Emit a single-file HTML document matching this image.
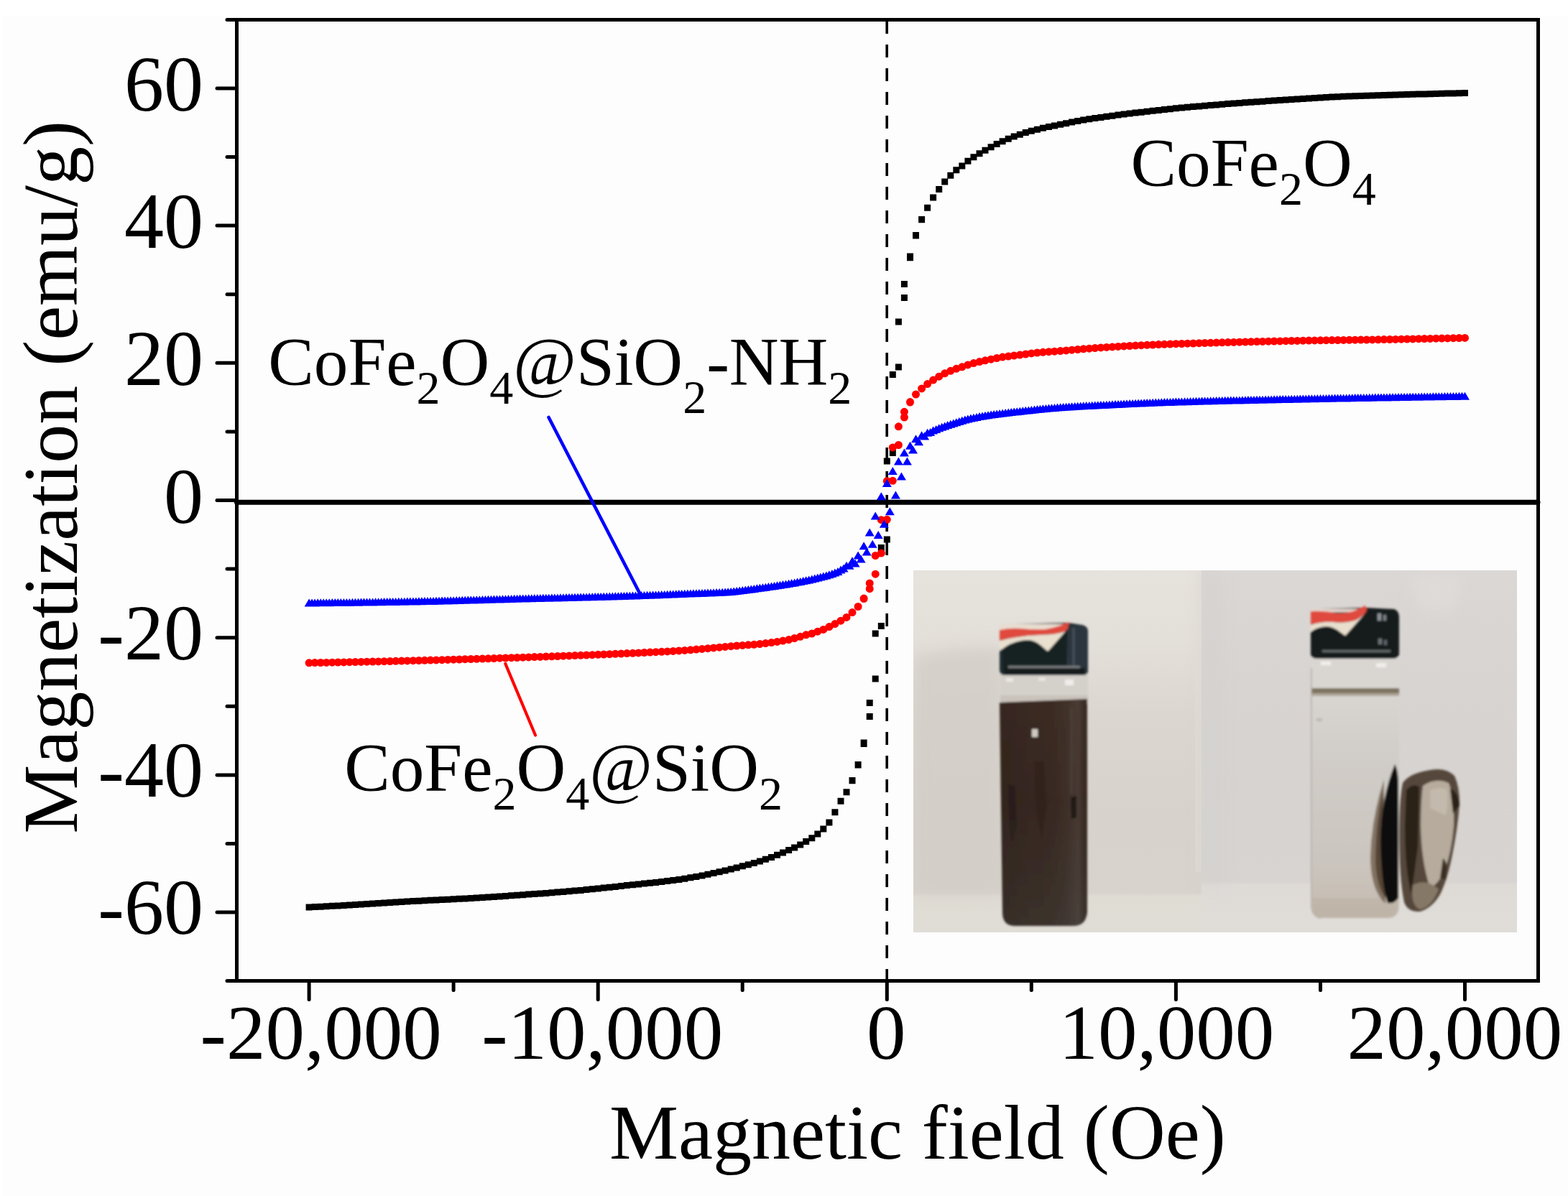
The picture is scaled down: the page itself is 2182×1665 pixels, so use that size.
<!DOCTYPE html>
<html><head><meta charset="utf-8"><title>Magnetization curves</title>
<style>
html,body{margin:0;padding:0;background:#fff;overflow:hidden;width:2182px;height:1665px;}
svg{display:block;}
text{font-family:"Liberation Serif","Times New Roman",serif;fill:#000;font-variant-ligatures:none;}
</style></head><body>
<svg width="2182" height="1665" viewBox="0 0 2182 1665">
<rect x="0" y="0" width="2182" height="1665" fill="#fff"/>
<rect x="3" y="22" width="2179" height="1643" fill="#fdfdfd"/>
<defs>
<clipPath id="pc"><rect x="1271" y="794" width="840" height="504"/></clipPath>
<filter id="bl" x="-5%" y="-5%" width="110%" height="110%"><feGaussianBlur stdDeviation="1.4"/></filter>
<filter id="bl3" x="-20%" y="-20%" width="140%" height="140%"><feGaussianBlur stdDeviation="3"/></filter>
<filter id="bl10" x="-30%" y="-30%" width="160%" height="160%"><feGaussianBlur stdDeviation="10"/></filter>
<linearGradient id="bgLv" x1="0" y1="794" x2="0" y2="1298" gradientUnits="userSpaceOnUse">
 <stop offset="0" stop-color="#e6e2dc"/><stop offset="0.2" stop-color="#e3dfd9"/><stop offset="0.4" stop-color="#dbd7d0"/><stop offset="0.7" stop-color="#d7d2cb"/><stop offset="0.89" stop-color="#d8d3cc"/><stop offset="0.9" stop-color="#dfdcd4"/><stop offset="1" stop-color="#e0ddd6"/>
</linearGradient>
<linearGradient id="bgRv" x1="0" y1="794" x2="0" y2="1298" gradientUnits="userSpaceOnUse">
 <stop offset="0" stop-color="#dbd7d4"/><stop offset="0.3" stop-color="#d8d4d2"/><stop offset="0.6" stop-color="#d6d3d1"/><stop offset="0.86" stop-color="#d7d4d1"/><stop offset="0.87" stop-color="#dedbd7"/><stop offset="1" stop-color="#e0ddd9"/>
</linearGradient>
<linearGradient id="liqL" x1="0" y1="978" x2="0" y2="1290" gradientUnits="userSpaceOnUse">
 <stop offset="0" stop-color="#3a2a22"/><stop offset="0.45" stop-color="#362720"/><stop offset="0.75" stop-color="#382c25"/><stop offset="1" stop-color="#3a312b"/>
</linearGradient>
<linearGradient id="liqLh" x1="1391" y1="0" x2="1513" y2="0" gradientUnits="userSpaceOnUse">
 <stop offset="0" stop-color="#000" stop-opacity="0.08"/><stop offset="0.4" stop-color="#000" stop-opacity="0"/><stop offset="0.75" stop-color="#fff" stop-opacity="0.03"/><stop offset="0.9" stop-color="#fff" stop-opacity="0.08"/><stop offset="1" stop-color="#000" stop-opacity="0.05"/>
</linearGradient>
<linearGradient id="liqR" x1="0" y1="966" x2="0" y2="1278" gradientUnits="userSpaceOnUse">
 <stop offset="0" stop-color="#d8d5d1"/><stop offset="0.3" stop-color="#d0ccc7"/><stop offset="0.75" stop-color="#cbc5bf"/><stop offset="0.9" stop-color="#c7bfb5"/><stop offset="1" stop-color="#c0b7ab"/>
</linearGradient>
</defs>
<g clip-path="url(#pc)">
<rect x="1271" y="794" width="401" height="504" fill="url(#bgLv)"/>
<rect x="1672" y="794" width="439" height="504" fill="url(#bgRv)"/>
<rect x="1663" y="794" width="9" height="420" fill="#e4e0da" opacity="0.45"/>
<g filter="url(#bl10)">
<path d="M1271 915Q1330 900 1395 902L1395 1244H1271Z" fill="#d2cdc7" opacity="0.8"/>
<path d="M1672 794H1700V1230H1672Z" fill="#d2d0cf" opacity="0.6"/>
<path d="M1960 800L2035 800L2025 850L1975 850Z" fill="#e0dddc" opacity="0.7"/>
</g>
<g filter="url(#bl)">
<!-- left vial glass neck -->
<rect x="1392" y="936" width="122" height="43" fill="#d4d0ca"/>
<rect x="1400" y="944" width="10" height="5" fill="#ebe9e5"/>
<rect x="1445" y="943" width="10" height="5" fill="#e6e4e0"/>
<rect x="1482" y="946" width="12" height="8" fill="#f0eeea"/>
<rect x="1392" y="968" width="122" height="10" fill="#c4beb6" opacity="0.7"/>
<!-- left liquid -->
<path d="M1391 978L1513 973V1270Q1511 1289 1494 1289H1412Q1396 1289 1395 1272Z" fill="url(#liqL)"/>
<path d="M1391 978L1513 973V1270Q1511 1289 1494 1289H1412Q1396 1289 1395 1272Z" fill="url(#liqLh)"/>
<path d="M1403 1090Q1402 1140 1408 1175L1415 1150L1413 1095Z" fill="#1e1613" opacity="0.4"/>
<path d="M1440 1060Q1438 1120 1450 1170L1456 1120L1452 1060Z" fill="#2a1d18" opacity="0.35"/>
<path d="M1490 1110L1498 1108L1498 1138L1491 1140Z" fill="#1c1512" opacity="0.85"/>
<rect x="1489" y="985" width="4" height="120" fill="#5a4a44" opacity="0.35"/>
<rect x="1436" y="1015" width="8" height="11" fill="#cfcbc3"/>
<!-- left cap -->
<path d="M1391 872Q1395 869 1410 869L1486 867L1506 870Q1514 872 1514 880V934Q1514 940 1506 940H1398Q1391 940 1391 932Z" fill="#1f2a2d"/>
<path d="M1391 869H1487L1487 878L1391 878Z" fill="#e8ddd0"/>
<path d="M1391 877Q1405 874 1420 875Q1440 877 1455 876Q1472 873 1488 866L1485 878Q1475 882 1465 883Q1445 884 1430 885Q1410 887 1391 892Z" fill="#e0493e"/>
<path d="M1391 892Q1410 887 1430 885Q1445 884 1465 883Q1475 882 1485 878L1480 886L1458 907L1450 900Q1440 891 1430 891Q1410 893 1400 900L1391 906Z" fill="#e9e0cf"/>
<path d="M1396 903Q1410 892 1430 891Q1442 892 1450 900L1458 907L1487 874L1490 935H1396Z" fill="#182224"/>
<path d="M1486 871L1506 870Q1514 872 1514 880V936H1484Z" fill="#2c353d"/>
<rect x="1492" y="874" width="4" height="58" fill="#46525c" opacity="0.8"/>
<rect x="1403" y="927" width="100" height="3" fill="#777b7e"/>
<rect x="1398" y="930" width="112" height="8" fill="#161c1e"/>
<!-- right vial glass -->
<path d="M1825 966H1947V1262Q1946 1278 1931 1278H1841Q1826 1278 1825 1262Z" fill="url(#liqR)"/>
<rect x="1825" y="915" width="122" height="45" fill="#d9d6d2"/>
<rect x="1838" y="921" width="14" height="5" fill="#f2f0ec"/>
<rect x="1915" y="923" width="14" height="6" fill="#f0eeea"/>
<rect x="1825" y="958" width="122" height="7" fill="#7e725f"/>
<rect x="1825" y="965" width="122" height="4" fill="#aea597"/>
<rect x="1832" y="1000" width="8" height="4" fill="#bdb6ae"/>
<path d="M1827 1250H1945V1262Q1944 1277 1930 1277H1842Q1828 1277 1827 1262Z" fill="#bcb1a3" opacity="0.6"/>
<!-- right cap -->
<path d="M1824 852Q1826 848 1835 848L1900 846L1940 848Q1947 850 1947 860V910Q1947 917 1938 917H1833Q1824 917 1824 910Z" fill="#171b1d"/>
<path d="M1824 848H1900V852L1824 853Z" fill="#e6d6cc"/>
<path d="M1824 851Q1845 850 1860 854Q1880 855 1900 843L1902 850Q1895 860 1885 864Q1870 868 1855 866Q1840 865 1824 870Z" fill="#e04a3d"/>
<path d="M1824 870Q1840 865 1855 866Q1870 868 1885 864Q1895 860 1902 850L1896 858L1872 885L1865 880Q1855 872 1845 872Q1832 873 1824 880Z" fill="#e8dfcd"/>
<rect x="1917" y="854" width="5" height="10" fill="#8c9297"/>
<rect x="1925" y="856" width="4" height="8" fill="#7a8085"/>
<rect x="1918" y="889" width="5" height="8" fill="#6a7075"/>
<rect x="1926" y="891" width="4" height="7" fill="#5f656a"/>
<rect x="1840" y="905" width="95" height="3" fill="#64686b"/>
<!-- deposit -->
<path d="M1926 1085Q1908 1140 1907 1195Q1908 1240 1928 1258L1926 1160Z" fill="#6a5643" opacity="0.75"/>
<path d="M1924 1100Q1914 1150 1914 1200Q1916 1235 1928 1250L1925 1160Z" fill="#4a3a2c" opacity="0.8"/>
<path d="M1941 1064Q1946 1072 1946 1095V1250Q1940 1259 1931 1257Q1922 1232 1921 1170Q1922 1110 1941 1064Z" fill="#0f0c0b"/>
<path d="M1825 930V1262Q1826 1276 1838 1278" stroke="#b4aca3" stroke-width="1.5" fill="none"/>
<!-- magnet -->
<path d="M1952 1090Q1962 1076 1990 1072Q2012 1068 2024 1080Q2031 1095 2031 1118Q2029 1150 2021 1190Q2014 1225 2004 1245Q1993 1264 1976 1269Q1959 1270 1954 1256Q1947 1222 1947 1160Q1947 1115 1952 1090Z" fill="#54463a"/>
<path d="M1980 1094Q1998 1082 2016 1090Q2024 1110 2023 1150Q2020 1185 2011 1210Q2001 1232 1990 1236Q1978 1200 1977 1150Q1977 1115 1980 1094Z" fill="#b6ab9c"/>
<path d="M1990 1100Q2005 1094 2014 1100Q2016 1120 2012 1135Q2000 1130 1990 1125Z" fill="#c7bdb0" opacity="0.8"/>
<path d="M1957 1100Q1965 1090 1975 1095L1973 1180L1964 1245Q1955 1210 1955 1150Z" fill="#2c2219"/>
<path d="M1966 1232Q1985 1222 2002 1238Q1993 1262 1976 1266Q1962 1260 1966 1232Z" fill="#857866"/>
<path d="M2018 1098Q2030 1102 2031 1122L2022 1132Z" fill="#2c2218"/>
<path d="M2008 1195Q2016 1200 2012 1225L2004 1222Z" fill="#3a2e22"/>
</g>
</g>

<g stroke="#000" stroke-width="5" stroke-linecap="round" fill="none">
<line x1="302" y1="122.9" x2="329.5" y2="122.9"/>
<line x1="302" y1="314.1" x2="329.5" y2="314.1"/>
<line x1="302" y1="505.3" x2="329.5" y2="505.3"/>
<line x1="302" y1="696.5" x2="329.5" y2="696.5"/>
<line x1="302" y1="887.7" x2="329.5" y2="887.7"/>
<line x1="302" y1="1078.9" x2="329.5" y2="1078.9"/>
<line x1="302" y1="1270.1" x2="329.5" y2="1270.1"/>
<line x1="316" y1="218.5" x2="329.5" y2="218.5"/>
<line x1="316" y1="409.7" x2="329.5" y2="409.7"/>
<line x1="316" y1="600.9" x2="329.5" y2="600.9"/>
<line x1="316" y1="792.1" x2="329.5" y2="792.1"/>
<line x1="316" y1="983.3" x2="329.5" y2="983.3"/>
<line x1="316" y1="1174.5" x2="329.5" y2="1174.5"/>
<line x1="430.1" y1="1365.5" x2="430.1" y2="1391.5"/>
<line x1="832.2" y1="1365.5" x2="832.2" y2="1391.5"/>
<line x1="1234.3" y1="1365.5" x2="1234.3" y2="1391.5"/>
<line x1="1636.4" y1="1365.5" x2="1636.4" y2="1391.5"/>
<line x1="2038.5" y1="1365.5" x2="2038.5" y2="1391.5"/>
<line x1="631.1" y1="1365.5" x2="631.1" y2="1378.5"/>
<line x1="1033.2" y1="1365.5" x2="1033.2" y2="1378.5"/>
<line x1="1435.3" y1="1365.5" x2="1435.3" y2="1378.5"/>
<line x1="1837.5" y1="1365.5" x2="1837.5" y2="1378.5"/>
</g>
<line x1="1234.2" y1="29" x2="1234.2" y2="1363" stroke="#000" stroke-width="3.6" stroke-dasharray="18 15" stroke-linecap="butt"/>
<line x1="329.5" y1="699.3" x2="2140" y2="699.3" stroke="#000" stroke-width="7" stroke-linecap="round"/>
<path d="M316 27.5H2140.5V1365.5H316M329.5 27.5V1365.5" stroke="#000" stroke-width="5" fill="none" stroke-linecap="round" stroke-linejoin="miter"/>
<line x1="763.5" y1="581" x2="890.5" y2="826.5" stroke="#00f" stroke-width="4.6" stroke-linecap="round"/>
<line x1="703.3" y1="924" x2="745" y2="1023.5" stroke="#f00" stroke-width="4.2" stroke-linecap="round"/>
<path fill="#000" d="M425.6 1258.4h9v9h-9zM433.6 1258.0h9v9h-9zM441.7 1257.7h9v9h-9zM449.7 1257.2h9v9h-9zM457.8 1256.8h9v9h-9zM465.8 1256.4h9v9h-9zM473.9 1256.0h9v9h-9zM481.9 1255.5h9v9h-9zM489.9 1255.1h9v9h-9zM498.0 1254.6h9v9h-9zM506.0 1254.1h9v9h-9zM514.1 1253.6h9v9h-9zM522.1 1253.1h9v9h-9zM530.1 1252.6h9v9h-9zM538.2 1252.0h9v9h-9zM546.2 1251.5h9v9h-9zM554.3 1251.0h9v9h-9zM562.3 1250.5h9v9h-9zM570.4 1250.1h9v9h-9zM578.4 1249.7h9v9h-9zM586.4 1249.2h9v9h-9zM594.5 1248.8h9v9h-9zM602.5 1248.4h9v9h-9zM610.6 1248.1h9v9h-9zM618.6 1247.7h9v9h-9zM626.6 1247.2h9v9h-9zM634.7 1246.8h9v9h-9zM642.7 1246.4h9v9h-9zM650.8 1245.9h9v9h-9zM658.8 1245.4h9v9h-9zM666.9 1244.9h9v9h-9zM674.9 1244.4h9v9h-9zM682.9 1243.9h9v9h-9zM691.0 1243.4h9v9h-9zM699.0 1242.9h9v9h-9zM707.1 1242.3h9v9h-9zM715.1 1241.8h9v9h-9zM723.2 1241.2h9v9h-9zM731.2 1240.6h9v9h-9zM739.2 1240.1h9v9h-9zM747.3 1239.5h9v9h-9zM755.3 1238.9h9v9h-9zM763.4 1238.3h9v9h-9zM771.4 1237.6h9v9h-9zM779.4 1237.0h9v9h-9zM787.5 1236.3h9v9h-9zM795.5 1235.6h9v9h-9zM803.6 1234.9h9v9h-9zM811.6 1234.1h9v9h-9zM819.7 1233.3h9v9h-9zM827.7 1232.5h9v9h-9zM835.7 1231.6h9v9h-9zM843.8 1230.8h9v9h-9zM851.8 1229.9h9v9h-9zM859.9 1229.0h9v9h-9zM867.9 1228.1h9v9h-9zM876.0 1227.3h9v9h-9zM884.0 1226.4h9v9h-9zM892.0 1225.6h9v9h-9zM900.1 1224.8h9v9h-9zM908.1 1223.9h9v9h-9zM916.2 1223.0h9v9h-9zM924.2 1222.0h9v9h-9zM932.2 1221.0h9v9h-9zM940.3 1219.9h9v9h-9zM948.3 1218.7h9v9h-9zM956.4 1217.3h9v9h-9zM964.4 1215.9h9v9h-9zM972.5 1214.4h9v9h-9zM980.5 1212.8h9v9h-9zM988.5 1211.1h9v9h-9zM996.6 1209.3h9v9h-9zM1004.6 1207.4h9v9h-9zM1012.7 1205.4h9v9h-9zM1020.7 1203.4h9v9h-9zM1028.8 1201.3h9v9h-9zM1036.8 1199.2h9v9h-9zM1044.8 1196.9h9v9h-9zM1052.9 1194.4h9v9h-9zM1060.9 1191.8h9v9h-9zM1069.0 1188.9h9v9h-9zM1077.0 1185.8h9v9h-9zM1085.0 1182.5h9v9h-9zM1093.1 1179.0h9v9h-9zM1101.1 1175.4h9v9h-9zM1109.2 1171.5h9v9h-9zM1117.2 1167.1h9v9h-9zM1125.3 1162.2h9v9h-9zM1133.3 1156.5h9v9h-9zM1141.3 1149.4h9v9h-9zM1149.4 1140.4h9v9h-9zM1157.4 1126.3h9v9h-9zM1165.5 1110.7h9v9h-9zM1173.5 1098.3h9v9h-9zM1181.5 1082.0h9v9h-9zM1189.6 1060.1h9v9h-9zM1197.6 1029.5h9v9h-9zM1205.7 974.0h9v9h-9zM1213.7 877.5h9v9h-9zM1221.8 758.0h9v9h-9zM1229.8 637.5h9v9h-9zM1237.8 517.1h9v9h-9zM1245.9 443.4h9v9h-9zM1253.9 390.9h9v9h-9zM1262.0 352.6h9v9h-9zM1270.0 323.0h9v9h-9zM1278.1 301.0h9v9h-9zM1286.1 284.7h9v9h-9zM1294.1 270.4h9v9h-9zM1302.2 258.9h9v9h-9zM1310.2 248.4h9v9h-9zM1318.3 239.8h9v9h-9zM1326.3 232.2h9v9h-9zM1334.3 226.4h9v9h-9zM1342.4 219.7h9v9h-9zM1350.4 214.2h9v9h-9zM1358.5 209.3h9v9h-9zM1366.5 204.7h9v9h-9zM1374.6 200.3h9v9h-9zM1382.6 196.1h9v9h-9zM1390.6 192.2h9v9h-9zM1398.7 188.7h9v9h-9zM1406.7 185.6h9v9h-9zM1414.8 182.7h9v9h-9zM1422.8 180.1h9v9h-9zM1430.8 177.8h9v9h-9zM1438.9 175.7h9v9h-9zM1446.9 173.8h9v9h-9zM1455.0 172.1h9v9h-9zM1463.0 170.5h9v9h-9zM1471.1 168.8h9v9h-9zM1479.1 167.2h9v9h-9zM1487.1 165.5h9v9h-9zM1495.2 164.0h9v9h-9zM1503.2 162.6h9v9h-9zM1511.3 161.3h9v9h-9zM1519.3 160.1h9v9h-9zM1527.4 158.9h9v9h-9zM1535.4 157.8h9v9h-9zM1543.4 156.7h9v9h-9zM1551.5 155.6h9v9h-9zM1559.5 154.6h9v9h-9zM1567.6 153.6h9v9h-9zM1575.6 152.6h9v9h-9zM1583.6 151.7h9v9h-9zM1591.7 150.7h9v9h-9zM1599.7 149.8h9v9h-9zM1607.8 148.9h9v9h-9zM1615.8 148.0h9v9h-9zM1623.9 147.2h9v9h-9zM1631.9 146.3h9v9h-9zM1639.9 145.6h9v9h-9zM1648.0 144.8h9v9h-9zM1656.0 144.1h9v9h-9zM1664.1 143.4h9v9h-9zM1672.1 142.7h9v9h-9zM1680.2 142.0h9v9h-9zM1688.2 141.4h9v9h-9zM1696.2 140.7h9v9h-9zM1704.3 140.1h9v9h-9zM1712.3 139.5h9v9h-9zM1720.4 138.9h9v9h-9zM1728.4 138.3h9v9h-9zM1736.4 137.8h9v9h-9zM1744.5 137.2h9v9h-9zM1752.5 136.7h9v9h-9zM1760.6 136.1h9v9h-9zM1768.6 135.6h9v9h-9zM1776.7 135.1h9v9h-9zM1784.7 134.5h9v9h-9zM1792.7 134.0h9v9h-9zM1800.8 133.5h9v9h-9zM1808.8 132.9h9v9h-9zM1816.9 132.4h9v9h-9zM1824.9 131.9h9v9h-9zM1833.0 131.4h9v9h-9zM1841.0 130.9h9v9h-9zM1849.0 130.5h9v9h-9zM1857.1 130.2h9v9h-9zM1865.1 129.8h9v9h-9zM1873.2 129.5h9v9h-9zM1881.2 129.3h9v9h-9zM1889.2 129.0h9v9h-9zM1897.3 128.7h9v9h-9zM1905.3 128.5h9v9h-9zM1913.4 128.2h9v9h-9zM1921.4 128.0h9v9h-9zM1929.5 127.8h9v9h-9zM1937.5 127.5h9v9h-9zM1945.5 127.3h9v9h-9zM1953.6 127.1h9v9h-9zM1961.6 126.8h9v9h-9zM1969.7 126.6h9v9h-9zM1977.7 126.4h9v9h-9zM1985.7 126.2h9v9h-9zM1993.8 126.0h9v9h-9zM2001.8 125.8h9v9h-9zM2009.9 125.6h9v9h-9zM2017.9 125.4h9v9h-9zM2026.0 125.3h9v9h-9zM2034.0 125.1h9v9h-9zM1181.5 1082.2h9v9h-9zM1189.6 1060.5h9v9h-9zM1197.6 1031.1h9v9h-9zM1205.7 993.1h9v9h-9zM1213.7 940.6h9v9h-9zM1221.8 866.9h9v9h-9zM1229.8 746.5h9v9h-9zM1237.8 626.0h9v9h-9zM1245.9 506.5h9v9h-9zM1253.9 410.0h9v9h-9zM1262.0 354.2h9v9h-9zM1270.0 323.5h9v9h-9zM1278.1 301.2h9v9h-9z"/>
<path fill="#f00" d="M424.6 922.8a5.5 5.5 0 1 0 11 0a5.5 5.5 0 1 0 -11 0zM432.6 922.6a5.5 5.5 0 1 0 11 0a5.5 5.5 0 1 0 -11 0zM440.7 922.5a5.5 5.5 0 1 0 11 0a5.5 5.5 0 1 0 -11 0zM448.7 922.4a5.5 5.5 0 1 0 11 0a5.5 5.5 0 1 0 -11 0zM456.8 922.2a5.5 5.5 0 1 0 11 0a5.5 5.5 0 1 0 -11 0zM464.8 922.0a5.5 5.5 0 1 0 11 0a5.5 5.5 0 1 0 -11 0zM472.9 921.9a5.5 5.5 0 1 0 11 0a5.5 5.5 0 1 0 -11 0zM480.9 921.7a5.5 5.5 0 1 0 11 0a5.5 5.5 0 1 0 -11 0zM488.9 921.6a5.5 5.5 0 1 0 11 0a5.5 5.5 0 1 0 -11 0zM497.0 921.4a5.5 5.5 0 1 0 11 0a5.5 5.5 0 1 0 -11 0zM505.0 921.2a5.5 5.5 0 1 0 11 0a5.5 5.5 0 1 0 -11 0zM513.1 921.0a5.5 5.5 0 1 0 11 0a5.5 5.5 0 1 0 -11 0zM521.1 920.9a5.5 5.5 0 1 0 11 0a5.5 5.5 0 1 0 -11 0zM529.1 920.7a5.5 5.5 0 1 0 11 0a5.5 5.5 0 1 0 -11 0zM537.2 920.5a5.5 5.5 0 1 0 11 0a5.5 5.5 0 1 0 -11 0zM545.2 920.3a5.5 5.5 0 1 0 11 0a5.5 5.5 0 1 0 -11 0zM553.3 920.1a5.5 5.5 0 1 0 11 0a5.5 5.5 0 1 0 -11 0zM561.3 919.9a5.5 5.5 0 1 0 11 0a5.5 5.5 0 1 0 -11 0zM569.4 919.7a5.5 5.5 0 1 0 11 0a5.5 5.5 0 1 0 -11 0zM577.4 919.5a5.5 5.5 0 1 0 11 0a5.5 5.5 0 1 0 -11 0zM585.4 919.3a5.5 5.5 0 1 0 11 0a5.5 5.5 0 1 0 -11 0zM593.5 919.1a5.5 5.5 0 1 0 11 0a5.5 5.5 0 1 0 -11 0zM601.5 918.9a5.5 5.5 0 1 0 11 0a5.5 5.5 0 1 0 -11 0zM609.6 918.7a5.5 5.5 0 1 0 11 0a5.5 5.5 0 1 0 -11 0zM617.6 918.4a5.5 5.5 0 1 0 11 0a5.5 5.5 0 1 0 -11 0zM625.6 918.2a5.5 5.5 0 1 0 11 0a5.5 5.5 0 1 0 -11 0zM633.7 918.0a5.5 5.5 0 1 0 11 0a5.5 5.5 0 1 0 -11 0zM641.7 917.7a5.5 5.5 0 1 0 11 0a5.5 5.5 0 1 0 -11 0zM649.8 917.5a5.5 5.5 0 1 0 11 0a5.5 5.5 0 1 0 -11 0zM657.8 917.3a5.5 5.5 0 1 0 11 0a5.5 5.5 0 1 0 -11 0zM665.9 917.0a5.5 5.5 0 1 0 11 0a5.5 5.5 0 1 0 -11 0zM673.9 916.8a5.5 5.5 0 1 0 11 0a5.5 5.5 0 1 0 -11 0zM681.9 916.5a5.5 5.5 0 1 0 11 0a5.5 5.5 0 1 0 -11 0zM690.0 916.2a5.5 5.5 0 1 0 11 0a5.5 5.5 0 1 0 -11 0zM698.0 916.0a5.5 5.5 0 1 0 11 0a5.5 5.5 0 1 0 -11 0zM706.1 915.7a5.5 5.5 0 1 0 11 0a5.5 5.5 0 1 0 -11 0zM714.1 915.5a5.5 5.5 0 1 0 11 0a5.5 5.5 0 1 0 -11 0zM722.2 915.2a5.5 5.5 0 1 0 11 0a5.5 5.5 0 1 0 -11 0zM730.2 914.9a5.5 5.5 0 1 0 11 0a5.5 5.5 0 1 0 -11 0zM738.2 914.6a5.5 5.5 0 1 0 11 0a5.5 5.5 0 1 0 -11 0zM746.3 914.4a5.5 5.5 0 1 0 11 0a5.5 5.5 0 1 0 -11 0zM754.3 914.1a5.5 5.5 0 1 0 11 0a5.5 5.5 0 1 0 -11 0zM762.4 913.8a5.5 5.5 0 1 0 11 0a5.5 5.5 0 1 0 -11 0zM770.4 913.5a5.5 5.5 0 1 0 11 0a5.5 5.5 0 1 0 -11 0zM778.4 913.2a5.5 5.5 0 1 0 11 0a5.5 5.5 0 1 0 -11 0zM786.5 912.9a5.5 5.5 0 1 0 11 0a5.5 5.5 0 1 0 -11 0zM794.5 912.6a5.5 5.5 0 1 0 11 0a5.5 5.5 0 1 0 -11 0zM802.6 912.3a5.5 5.5 0 1 0 11 0a5.5 5.5 0 1 0 -11 0zM810.6 912.0a5.5 5.5 0 1 0 11 0a5.5 5.5 0 1 0 -11 0zM818.7 911.7a5.5 5.5 0 1 0 11 0a5.5 5.5 0 1 0 -11 0zM826.7 911.3a5.5 5.5 0 1 0 11 0a5.5 5.5 0 1 0 -11 0zM834.7 911.0a5.5 5.5 0 1 0 11 0a5.5 5.5 0 1 0 -11 0zM842.8 910.7a5.5 5.5 0 1 0 11 0a5.5 5.5 0 1 0 -11 0zM850.8 910.3a5.5 5.5 0 1 0 11 0a5.5 5.5 0 1 0 -11 0zM858.9 910.0a5.5 5.5 0 1 0 11 0a5.5 5.5 0 1 0 -11 0zM866.9 909.6a5.5 5.5 0 1 0 11 0a5.5 5.5 0 1 0 -11 0zM875.0 909.3a5.5 5.5 0 1 0 11 0a5.5 5.5 0 1 0 -11 0zM883.0 908.9a5.5 5.5 0 1 0 11 0a5.5 5.5 0 1 0 -11 0zM891.0 908.5a5.5 5.5 0 1 0 11 0a5.5 5.5 0 1 0 -11 0zM899.1 908.1a5.5 5.5 0 1 0 11 0a5.5 5.5 0 1 0 -11 0zM907.1 907.7a5.5 5.5 0 1 0 11 0a5.5 5.5 0 1 0 -11 0zM915.2 907.3a5.5 5.5 0 1 0 11 0a5.5 5.5 0 1 0 -11 0zM923.2 906.9a5.5 5.5 0 1 0 11 0a5.5 5.5 0 1 0 -11 0zM931.2 906.4a5.5 5.5 0 1 0 11 0a5.5 5.5 0 1 0 -11 0zM939.3 905.9a5.5 5.5 0 1 0 11 0a5.5 5.5 0 1 0 -11 0zM947.3 905.4a5.5 5.5 0 1 0 11 0a5.5 5.5 0 1 0 -11 0zM955.4 904.8a5.5 5.5 0 1 0 11 0a5.5 5.5 0 1 0 -11 0zM963.4 904.1a5.5 5.5 0 1 0 11 0a5.5 5.5 0 1 0 -11 0zM971.5 903.4a5.5 5.5 0 1 0 11 0a5.5 5.5 0 1 0 -11 0zM979.5 902.7a5.5 5.5 0 1 0 11 0a5.5 5.5 0 1 0 -11 0zM987.5 901.9a5.5 5.5 0 1 0 11 0a5.5 5.5 0 1 0 -11 0zM995.6 901.2a5.5 5.5 0 1 0 11 0a5.5 5.5 0 1 0 -11 0zM1003.6 900.4a5.5 5.5 0 1 0 11 0a5.5 5.5 0 1 0 -11 0zM1011.7 899.7a5.5 5.5 0 1 0 11 0a5.5 5.5 0 1 0 -11 0zM1019.7 899.0a5.5 5.5 0 1 0 11 0a5.5 5.5 0 1 0 -11 0zM1027.8 898.4a5.5 5.5 0 1 0 11 0a5.5 5.5 0 1 0 -11 0zM1035.8 897.8a5.5 5.5 0 1 0 11 0a5.5 5.5 0 1 0 -11 0zM1043.8 897.3a5.5 5.5 0 1 0 11 0a5.5 5.5 0 1 0 -11 0zM1051.9 896.5a5.5 5.5 0 1 0 11 0a5.5 5.5 0 1 0 -11 0zM1059.9 895.6a5.5 5.5 0 1 0 11 0a5.5 5.5 0 1 0 -11 0zM1068.0 894.6a5.5 5.5 0 1 0 11 0a5.5 5.5 0 1 0 -11 0zM1076.0 893.4a5.5 5.5 0 1 0 11 0a5.5 5.5 0 1 0 -11 0zM1084.0 892.1a5.5 5.5 0 1 0 11 0a5.5 5.5 0 1 0 -11 0zM1092.1 890.6a5.5 5.5 0 1 0 11 0a5.5 5.5 0 1 0 -11 0zM1100.1 888.5a5.5 5.5 0 1 0 11 0a5.5 5.5 0 1 0 -11 0zM1108.2 886.3a5.5 5.5 0 1 0 11 0a5.5 5.5 0 1 0 -11 0zM1116.2 883.8a5.5 5.5 0 1 0 11 0a5.5 5.5 0 1 0 -11 0zM1124.3 882.0a5.5 5.5 0 1 0 11 0a5.5 5.5 0 1 0 -11 0zM1132.3 879.2a5.5 5.5 0 1 0 11 0a5.5 5.5 0 1 0 -11 0zM1140.3 876.4a5.5 5.5 0 1 0 11 0a5.5 5.5 0 1 0 -11 0zM1148.4 872.6a5.5 5.5 0 1 0 11 0a5.5 5.5 0 1 0 -11 0zM1156.4 868.6a5.5 5.5 0 1 0 11 0a5.5 5.5 0 1 0 -11 0zM1164.5 864.2a5.5 5.5 0 1 0 11 0a5.5 5.5 0 1 0 -11 0zM1172.5 859.4a5.5 5.5 0 1 0 11 0a5.5 5.5 0 1 0 -11 0zM1180.5 852.6a5.5 5.5 0 1 0 11 0a5.5 5.5 0 1 0 -11 0zM1188.6 844.5a5.5 5.5 0 1 0 11 0a5.5 5.5 0 1 0 -11 0zM1196.6 833.5a5.5 5.5 0 1 0 11 0a5.5 5.5 0 1 0 -11 0zM1204.7 812.0a5.5 5.5 0 1 0 11 0a5.5 5.5 0 1 0 -11 0zM1212.7 773.5a5.5 5.5 0 1 0 11 0a5.5 5.5 0 1 0 -11 0zM1220.8 723.7a5.5 5.5 0 1 0 11 0a5.5 5.5 0 1 0 -11 0zM1228.8 669.7a5.5 5.5 0 1 0 11 0a5.5 5.5 0 1 0 -11 0zM1236.8 622.9a5.5 5.5 0 1 0 11 0a5.5 5.5 0 1 0 -11 0zM1244.9 593.8a5.5 5.5 0 1 0 11 0a5.5 5.5 0 1 0 -11 0zM1252.9 573.3a5.5 5.5 0 1 0 11 0a5.5 5.5 0 1 0 -11 0zM1261.0 560.1a5.5 5.5 0 1 0 11 0a5.5 5.5 0 1 0 -11 0zM1269.0 549.0a5.5 5.5 0 1 0 11 0a5.5 5.5 0 1 0 -11 0zM1277.1 540.9a5.5 5.5 0 1 0 11 0a5.5 5.5 0 1 0 -11 0zM1285.1 534.6a5.5 5.5 0 1 0 11 0a5.5 5.5 0 1 0 -11 0zM1293.1 529.1a5.5 5.5 0 1 0 11 0a5.5 5.5 0 1 0 -11 0zM1301.2 524.2a5.5 5.5 0 1 0 11 0a5.5 5.5 0 1 0 -11 0zM1309.2 519.8a5.5 5.5 0 1 0 11 0a5.5 5.5 0 1 0 -11 0zM1317.3 516.3a5.5 5.5 0 1 0 11 0a5.5 5.5 0 1 0 -11 0zM1325.3 513.3a5.5 5.5 0 1 0 11 0a5.5 5.5 0 1 0 -11 0zM1333.3 510.8a5.5 5.5 0 1 0 11 0a5.5 5.5 0 1 0 -11 0zM1341.4 507.9a5.5 5.5 0 1 0 11 0a5.5 5.5 0 1 0 -11 0zM1349.4 505.6a5.5 5.5 0 1 0 11 0a5.5 5.5 0 1 0 -11 0zM1357.5 503.6a5.5 5.5 0 1 0 11 0a5.5 5.5 0 1 0 -11 0zM1365.5 501.8a5.5 5.5 0 1 0 11 0a5.5 5.5 0 1 0 -11 0zM1373.6 500.2a5.5 5.5 0 1 0 11 0a5.5 5.5 0 1 0 -11 0zM1381.6 498.5a5.5 5.5 0 1 0 11 0a5.5 5.5 0 1 0 -11 0zM1389.6 497.1a5.5 5.5 0 1 0 11 0a5.5 5.5 0 1 0 -11 0zM1397.7 496.0a5.5 5.5 0 1 0 11 0a5.5 5.5 0 1 0 -11 0zM1405.7 495.0a5.5 5.5 0 1 0 11 0a5.5 5.5 0 1 0 -11 0zM1413.8 494.1a5.5 5.5 0 1 0 11 0a5.5 5.5 0 1 0 -11 0zM1421.8 493.0a5.5 5.5 0 1 0 11 0a5.5 5.5 0 1 0 -11 0zM1429.8 491.9a5.5 5.5 0 1 0 11 0a5.5 5.5 0 1 0 -11 0zM1437.9 491.0a5.5 5.5 0 1 0 11 0a5.5 5.5 0 1 0 -11 0zM1445.9 490.3a5.5 5.5 0 1 0 11 0a5.5 5.5 0 1 0 -11 0zM1454.0 489.7a5.5 5.5 0 1 0 11 0a5.5 5.5 0 1 0 -11 0zM1462.0 489.2a5.5 5.5 0 1 0 11 0a5.5 5.5 0 1 0 -11 0zM1470.1 488.6a5.5 5.5 0 1 0 11 0a5.5 5.5 0 1 0 -11 0zM1478.1 487.9a5.5 5.5 0 1 0 11 0a5.5 5.5 0 1 0 -11 0zM1486.1 487.2a5.5 5.5 0 1 0 11 0a5.5 5.5 0 1 0 -11 0zM1494.2 486.5a5.5 5.5 0 1 0 11 0a5.5 5.5 0 1 0 -11 0zM1502.2 485.8a5.5 5.5 0 1 0 11 0a5.5 5.5 0 1 0 -11 0zM1510.3 485.2a5.5 5.5 0 1 0 11 0a5.5 5.5 0 1 0 -11 0zM1518.3 484.5a5.5 5.5 0 1 0 11 0a5.5 5.5 0 1 0 -11 0zM1526.4 483.9a5.5 5.5 0 1 0 11 0a5.5 5.5 0 1 0 -11 0zM1534.4 483.4a5.5 5.5 0 1 0 11 0a5.5 5.5 0 1 0 -11 0zM1542.4 482.9a5.5 5.5 0 1 0 11 0a5.5 5.5 0 1 0 -11 0zM1550.5 482.4a5.5 5.5 0 1 0 11 0a5.5 5.5 0 1 0 -11 0zM1558.5 481.9a5.5 5.5 0 1 0 11 0a5.5 5.5 0 1 0 -11 0zM1566.6 481.5a5.5 5.5 0 1 0 11 0a5.5 5.5 0 1 0 -11 0zM1574.6 481.1a5.5 5.5 0 1 0 11 0a5.5 5.5 0 1 0 -11 0zM1582.6 480.7a5.5 5.5 0 1 0 11 0a5.5 5.5 0 1 0 -11 0zM1590.7 480.3a5.5 5.5 0 1 0 11 0a5.5 5.5 0 1 0 -11 0zM1598.7 480.0a5.5 5.5 0 1 0 11 0a5.5 5.5 0 1 0 -11 0zM1606.8 479.6a5.5 5.5 0 1 0 11 0a5.5 5.5 0 1 0 -11 0zM1614.8 479.3a5.5 5.5 0 1 0 11 0a5.5 5.5 0 1 0 -11 0zM1622.9 479.0a5.5 5.5 0 1 0 11 0a5.5 5.5 0 1 0 -11 0zM1630.9 478.7a5.5 5.5 0 1 0 11 0a5.5 5.5 0 1 0 -11 0zM1638.9 478.5a5.5 5.5 0 1 0 11 0a5.5 5.5 0 1 0 -11 0zM1647.0 478.2a5.5 5.5 0 1 0 11 0a5.5 5.5 0 1 0 -11 0zM1655.0 478.0a5.5 5.5 0 1 0 11 0a5.5 5.5 0 1 0 -11 0zM1663.1 477.7a5.5 5.5 0 1 0 11 0a5.5 5.5 0 1 0 -11 0zM1671.1 477.5a5.5 5.5 0 1 0 11 0a5.5 5.5 0 1 0 -11 0zM1679.2 477.3a5.5 5.5 0 1 0 11 0a5.5 5.5 0 1 0 -11 0zM1687.2 477.1a5.5 5.5 0 1 0 11 0a5.5 5.5 0 1 0 -11 0zM1695.2 476.8a5.5 5.5 0 1 0 11 0a5.5 5.5 0 1 0 -11 0zM1703.3 476.6a5.5 5.5 0 1 0 11 0a5.5 5.5 0 1 0 -11 0zM1711.3 476.4a5.5 5.5 0 1 0 11 0a5.5 5.5 0 1 0 -11 0zM1719.4 476.2a5.5 5.5 0 1 0 11 0a5.5 5.5 0 1 0 -11 0zM1727.4 476.0a5.5 5.5 0 1 0 11 0a5.5 5.5 0 1 0 -11 0zM1735.4 475.8a5.5 5.5 0 1 0 11 0a5.5 5.5 0 1 0 -11 0zM1743.5 475.6a5.5 5.5 0 1 0 11 0a5.5 5.5 0 1 0 -11 0zM1751.5 475.4a5.5 5.5 0 1 0 11 0a5.5 5.5 0 1 0 -11 0zM1759.6 475.2a5.5 5.5 0 1 0 11 0a5.5 5.5 0 1 0 -11 0zM1767.6 475.0a5.5 5.5 0 1 0 11 0a5.5 5.5 0 1 0 -11 0zM1775.7 474.9a5.5 5.5 0 1 0 11 0a5.5 5.5 0 1 0 -11 0zM1783.7 474.7a5.5 5.5 0 1 0 11 0a5.5 5.5 0 1 0 -11 0zM1791.7 474.5a5.5 5.5 0 1 0 11 0a5.5 5.5 0 1 0 -11 0zM1799.8 474.4a5.5 5.5 0 1 0 11 0a5.5 5.5 0 1 0 -11 0zM1807.8 474.2a5.5 5.5 0 1 0 11 0a5.5 5.5 0 1 0 -11 0zM1815.9 474.1a5.5 5.5 0 1 0 11 0a5.5 5.5 0 1 0 -11 0zM1823.9 473.9a5.5 5.5 0 1 0 11 0a5.5 5.5 0 1 0 -11 0zM1832.0 473.8a5.5 5.5 0 1 0 11 0a5.5 5.5 0 1 0 -11 0zM1840.0 473.7a5.5 5.5 0 1 0 11 0a5.5 5.5 0 1 0 -11 0zM1848.0 473.6a5.5 5.5 0 1 0 11 0a5.5 5.5 0 1 0 -11 0zM1856.1 473.5a5.5 5.5 0 1 0 11 0a5.5 5.5 0 1 0 -11 0zM1864.1 473.4a5.5 5.5 0 1 0 11 0a5.5 5.5 0 1 0 -11 0zM1872.2 473.3a5.5 5.5 0 1 0 11 0a5.5 5.5 0 1 0 -11 0zM1880.2 473.2a5.5 5.5 0 1 0 11 0a5.5 5.5 0 1 0 -11 0zM1888.2 473.1a5.5 5.5 0 1 0 11 0a5.5 5.5 0 1 0 -11 0zM1896.3 473.0a5.5 5.5 0 1 0 11 0a5.5 5.5 0 1 0 -11 0zM1904.3 472.9a5.5 5.5 0 1 0 11 0a5.5 5.5 0 1 0 -11 0zM1912.4 472.8a5.5 5.5 0 1 0 11 0a5.5 5.5 0 1 0 -11 0zM1920.4 472.6a5.5 5.5 0 1 0 11 0a5.5 5.5 0 1 0 -11 0zM1928.5 472.5a5.5 5.5 0 1 0 11 0a5.5 5.5 0 1 0 -11 0zM1936.5 472.4a5.5 5.5 0 1 0 11 0a5.5 5.5 0 1 0 -11 0zM1944.5 472.2a5.5 5.5 0 1 0 11 0a5.5 5.5 0 1 0 -11 0zM1952.6 472.0a5.5 5.5 0 1 0 11 0a5.5 5.5 0 1 0 -11 0zM1960.6 471.9a5.5 5.5 0 1 0 11 0a5.5 5.5 0 1 0 -11 0zM1968.7 471.7a5.5 5.5 0 1 0 11 0a5.5 5.5 0 1 0 -11 0zM1976.7 471.6a5.5 5.5 0 1 0 11 0a5.5 5.5 0 1 0 -11 0zM1984.7 471.4a5.5 5.5 0 1 0 11 0a5.5 5.5 0 1 0 -11 0zM1992.8 471.2a5.5 5.5 0 1 0 11 0a5.5 5.5 0 1 0 -11 0zM2000.8 471.1a5.5 5.5 0 1 0 11 0a5.5 5.5 0 1 0 -11 0zM2008.9 470.9a5.5 5.5 0 1 0 11 0a5.5 5.5 0 1 0 -11 0zM2016.9 470.7a5.5 5.5 0 1 0 11 0a5.5 5.5 0 1 0 -11 0zM2025.0 470.6a5.5 5.5 0 1 0 11 0a5.5 5.5 0 1 0 -11 0zM2033.0 470.4a5.5 5.5 0 1 0 11 0a5.5 5.5 0 1 0 -11 0zM1188.6 844.4a5.5 5.5 0 1 0 11 0a5.5 5.5 0 1 0 -11 0zM1196.6 833.1a5.5 5.5 0 1 0 11 0a5.5 5.5 0 1 0 -11 0zM1204.7 819.7a5.5 5.5 0 1 0 11 0a5.5 5.5 0 1 0 -11 0zM1212.7 799.2a5.5 5.5 0 1 0 11 0a5.5 5.5 0 1 0 -11 0zM1220.8 770.1a5.5 5.5 0 1 0 11 0a5.5 5.5 0 1 0 -11 0zM1228.8 723.3a5.5 5.5 0 1 0 11 0a5.5 5.5 0 1 0 -11 0zM1236.8 669.3a5.5 5.5 0 1 0 11 0a5.5 5.5 0 1 0 -11 0zM1244.9 619.5a5.5 5.5 0 1 0 11 0a5.5 5.5 0 1 0 -11 0zM1252.9 581.0a5.5 5.5 0 1 0 11 0a5.5 5.5 0 1 0 -11 0zM1261.0 559.6a5.5 5.5 0 1 0 11 0a5.5 5.5 0 1 0 -11 0zM1269.0 548.9a5.5 5.5 0 1 0 11 0a5.5 5.5 0 1 0 -11 0z"/>
<path fill="#00f" d="M430.1 833.4l6.5 11h-13zM438.1 833.4l6.5 11h-13zM446.2 833.3l6.5 11h-13zM454.2 833.2l6.5 11h-13zM462.3 833.1l6.5 11h-13zM470.3 833.1l6.5 11h-13zM478.4 833.0l6.5 11h-13zM486.4 832.9l6.5 11h-13zM494.4 832.7l6.5 11h-13zM502.5 832.6l6.5 11h-13zM510.5 832.5l6.5 11h-13zM518.6 832.4l6.5 11h-13zM526.6 832.3l6.5 11h-13zM534.6 832.1l6.5 11h-13zM542.7 832.0l6.5 11h-13zM550.7 831.9l6.5 11h-13zM558.8 831.7l6.5 11h-13zM566.8 831.6l6.5 11h-13zM574.9 831.5l6.5 11h-13zM582.9 831.3l6.5 11h-13zM590.9 831.1l6.5 11h-13zM599.0 831.0l6.5 11h-13zM607.0 830.8l6.5 11h-13zM615.1 830.6l6.5 11h-13zM623.1 830.4l6.5 11h-13zM631.1 830.2l6.5 11h-13zM639.2 829.9l6.5 11h-13zM647.2 829.7l6.5 11h-13zM655.3 829.5l6.5 11h-13zM663.3 829.3l6.5 11h-13zM671.4 829.0l6.5 11h-13zM679.4 828.8l6.5 11h-13zM687.4 828.6l6.5 11h-13zM695.5 828.4l6.5 11h-13zM703.5 828.2l6.5 11h-13zM711.6 827.9l6.5 11h-13zM719.6 827.7l6.5 11h-13zM727.7 827.5l6.5 11h-13zM735.7 827.3l6.5 11h-13zM743.7 827.1l6.5 11h-13zM751.8 826.9l6.5 11h-13zM759.8 826.7l6.5 11h-13zM767.9 826.6l6.5 11h-13zM775.9 826.4l6.5 11h-13zM783.9 826.2l6.5 11h-13zM792.0 826.0l6.5 11h-13zM800.0 825.8l6.5 11h-13zM808.1 825.6l6.5 11h-13zM816.1 825.4l6.5 11h-13zM824.2 825.2l6.5 11h-13zM832.2 825.0l6.5 11h-13zM840.2 824.8l6.5 11h-13zM848.3 824.6l6.5 11h-13zM856.3 824.3l6.5 11h-13zM864.4 824.1l6.5 11h-13zM872.4 823.8l6.5 11h-13zM880.5 823.6l6.5 11h-13zM888.5 823.3l6.5 11h-13zM896.5 823.0l6.5 11h-13zM904.6 822.7l6.5 11h-13zM912.6 822.4l6.5 11h-13zM920.7 822.0l6.5 11h-13zM928.7 821.7l6.5 11h-13zM936.7 821.4l6.5 11h-13zM944.8 821.1l6.5 11h-13zM952.8 820.8l6.5 11h-13zM960.9 820.5l6.5 11h-13zM968.9 820.2l6.5 11h-13zM977.0 819.9l6.5 11h-13zM985.0 819.6l6.5 11h-13zM993.0 819.3l6.5 11h-13zM1001.1 818.9l6.5 11h-13zM1009.1 818.5l6.5 11h-13zM1017.2 817.9l6.5 11h-13zM1025.2 817.1l6.5 11h-13zM1033.2 816.1l6.5 11h-13zM1041.3 815.0l6.5 11h-13zM1049.3 813.9l6.5 11h-13zM1057.4 812.8l6.5 11h-13zM1065.4 811.7l6.5 11h-13zM1073.5 810.5l6.5 11h-13zM1081.5 809.3l6.5 11h-13zM1089.5 808.1l6.5 11h-13zM1097.6 806.8l6.5 11h-13zM1105.6 805.4l6.5 11h-13zM1113.7 803.9l6.5 11h-13zM1121.7 802.3l6.5 11h-13zM1129.8 800.5l6.5 11h-13zM1137.8 798.6l6.5 11h-13zM1145.8 796.5l6.5 11h-13zM1153.9 794.3l6.5 11h-13zM1161.9 791.6l6.5 11h-13zM1170.0 787.6l6.5 11h-13zM1178.0 781.7l6.5 11h-13zM1186.0 775.3l6.5 11h-13zM1194.1 767.5l6.5 11h-13zM1202.1 754.3l6.5 11h-13zM1210.2 735.5l6.5 11h-13zM1218.2 712.5l6.5 11h-13zM1226.3 685.3l6.5 11h-13zM1234.3 667.1l6.5 11h-13zM1242.3 649.9l6.5 11h-13zM1250.4 636.5l6.5 11h-13zM1258.4 624.4l6.5 11h-13zM1266.5 614.7l6.5 11h-13zM1274.5 605.2l6.5 11h-13zM1282.6 600.2l6.5 11h-13zM1290.6 596.7l6.5 11h-13zM1298.6 593.6l6.5 11h-13zM1306.7 590.3l6.5 11h-13zM1314.7 587.4l6.5 11h-13zM1322.8 584.8l6.5 11h-13zM1330.8 582.2l6.5 11h-13zM1338.8 579.8l6.5 11h-13zM1346.9 577.6l6.5 11h-13zM1354.9 575.7l6.5 11h-13zM1363.0 574.1l6.5 11h-13zM1371.0 572.8l6.5 11h-13zM1379.1 571.6l6.5 11h-13zM1387.1 570.5l6.5 11h-13zM1395.1 569.5l6.5 11h-13zM1403.2 568.5l6.5 11h-13zM1411.2 567.6l6.5 11h-13zM1419.3 566.7l6.5 11h-13zM1427.3 565.8l6.5 11h-13zM1435.3 565.0l6.5 11h-13zM1443.4 564.1l6.5 11h-13zM1451.4 563.3l6.5 11h-13zM1459.5 562.6l6.5 11h-13zM1467.5 561.9l6.5 11h-13zM1475.6 561.2l6.5 11h-13zM1483.6 560.7l6.5 11h-13zM1491.6 560.2l6.5 11h-13zM1499.7 559.7l6.5 11h-13zM1507.7 559.3l6.5 11h-13zM1515.8 558.9l6.5 11h-13zM1523.8 558.5l6.5 11h-13zM1531.9 558.1l6.5 11h-13zM1539.9 557.7l6.5 11h-13zM1547.9 557.3l6.5 11h-13zM1556.0 556.9l6.5 11h-13zM1564.0 556.5l6.5 11h-13zM1572.1 556.1l6.5 11h-13zM1580.1 555.7l6.5 11h-13zM1588.1 555.4l6.5 11h-13zM1596.2 555.0l6.5 11h-13zM1604.2 554.7l6.5 11h-13zM1612.3 554.4l6.5 11h-13zM1620.3 554.1l6.5 11h-13zM1628.4 553.9l6.5 11h-13zM1636.4 553.6l6.5 11h-13zM1644.4 553.4l6.5 11h-13zM1652.5 553.2l6.5 11h-13zM1660.5 552.9l6.5 11h-13zM1668.6 552.7l6.5 11h-13zM1676.6 552.5l6.5 11h-13zM1684.7 552.3l6.5 11h-13zM1692.7 552.1l6.5 11h-13zM1700.7 551.9l6.5 11h-13zM1708.8 551.7l6.5 11h-13zM1716.8 551.6l6.5 11h-13zM1724.9 551.4l6.5 11h-13zM1732.9 551.2l6.5 11h-13zM1740.9 551.0l6.5 11h-13zM1749.0 550.8l6.5 11h-13zM1757.0 550.7l6.5 11h-13zM1765.1 550.5l6.5 11h-13zM1773.1 550.3l6.5 11h-13zM1781.2 550.1l6.5 11h-13zM1789.2 550.0l6.5 11h-13zM1797.2 549.8l6.5 11h-13zM1805.3 549.7l6.5 11h-13zM1813.3 549.5l6.5 11h-13zM1821.4 549.3l6.5 11h-13zM1829.4 549.2l6.5 11h-13zM1837.5 549.0l6.5 11h-13zM1845.5 548.9l6.5 11h-13zM1853.5 548.7l6.5 11h-13zM1861.6 548.6l6.5 11h-13zM1869.6 548.4l6.5 11h-13zM1877.7 548.3l6.5 11h-13zM1885.7 548.1l6.5 11h-13zM1893.7 548.0l6.5 11h-13zM1901.8 547.9l6.5 11h-13zM1909.8 547.7l6.5 11h-13zM1917.9 547.6l6.5 11h-13zM1925.9 547.4l6.5 11h-13zM1934.0 547.3l6.5 11h-13zM1942.0 547.2l6.5 11h-13zM1950.0 547.0l6.5 11h-13zM1958.1 546.9l6.5 11h-13zM1966.1 546.8l6.5 11h-13zM1974.2 546.7l6.5 11h-13zM1982.2 546.5l6.5 11h-13zM1990.2 546.4l6.5 11h-13zM1998.3 546.3l6.5 11h-13zM2006.3 546.2l6.5 11h-13zM2014.4 546.0l6.5 11h-13zM2022.4 545.9l6.5 11h-13zM2030.5 545.8l6.5 11h-13zM2038.5 545.7l6.5 11h-13zM434.1 833.4l6.5 11h-13zM442.2 833.3l6.5 11h-13zM450.2 833.3l6.5 11h-13zM458.2 833.2l6.5 11h-13zM466.3 833.1l6.5 11h-13zM474.3 833.0l6.5 11h-13zM482.4 832.9l6.5 11h-13zM490.4 832.8l6.5 11h-13zM498.5 832.7l6.5 11h-13zM506.5 832.6l6.5 11h-13zM514.5 832.5l6.5 11h-13zM522.6 832.3l6.5 11h-13zM530.6 832.2l6.5 11h-13zM538.7 832.1l6.5 11h-13zM546.7 831.9l6.5 11h-13zM554.8 831.8l6.5 11h-13zM562.8 831.7l6.5 11h-13zM570.8 831.5l6.5 11h-13zM578.9 831.4l6.5 11h-13zM586.9 831.2l6.5 11h-13zM595.0 831.0l6.5 11h-13zM603.0 830.9l6.5 11h-13zM611.0 830.7l6.5 11h-13zM619.1 830.5l6.5 11h-13zM627.1 830.3l6.5 11h-13zM635.2 830.1l6.5 11h-13zM643.2 829.8l6.5 11h-13zM651.3 829.6l6.5 11h-13zM659.3 829.4l6.5 11h-13zM667.3 829.2l6.5 11h-13zM675.4 828.9l6.5 11h-13zM683.4 828.7l6.5 11h-13zM691.5 828.5l6.5 11h-13zM699.5 828.3l6.5 11h-13zM707.5 828.0l6.5 11h-13zM715.6 827.8l6.5 11h-13zM723.6 827.6l6.5 11h-13zM731.7 827.4l6.5 11h-13zM739.7 827.2l6.5 11h-13zM747.8 827.0l6.5 11h-13zM755.8 826.8l6.5 11h-13zM763.8 826.7l6.5 11h-13zM771.9 826.5l6.5 11h-13zM779.9 826.3l6.5 11h-13zM788.0 826.1l6.5 11h-13zM796.0 825.9l6.5 11h-13zM804.1 825.7l6.5 11h-13zM812.1 825.5l6.5 11h-13zM820.1 825.3l6.5 11h-13zM828.2 825.1l6.5 11h-13zM836.2 824.9l6.5 11h-13zM844.3 824.7l6.5 11h-13zM852.3 824.4l6.5 11h-13zM860.3 824.2l6.5 11h-13zM868.4 824.0l6.5 11h-13zM876.4 823.7l6.5 11h-13zM884.5 823.4l6.5 11h-13zM892.5 823.1l6.5 11h-13zM900.6 822.8l6.5 11h-13zM908.6 822.5l6.5 11h-13zM916.6 822.2l6.5 11h-13zM924.7 821.9l6.5 11h-13zM932.7 821.5l6.5 11h-13zM940.8 821.2l6.5 11h-13zM948.8 820.9l6.5 11h-13zM956.9 820.6l6.5 11h-13zM964.9 820.3l6.5 11h-13zM972.9 820.1l6.5 11h-13zM981.0 819.8l6.5 11h-13zM989.0 819.5l6.5 11h-13zM997.1 819.1l6.5 11h-13zM1005.1 818.7l6.5 11h-13zM1013.1 818.2l6.5 11h-13zM1021.2 817.5l6.5 11h-13zM1029.2 816.6l6.5 11h-13zM1037.3 815.5l6.5 11h-13zM1045.3 814.4l6.5 11h-13zM1053.4 813.3l6.5 11h-13zM1061.4 812.2l6.5 11h-13zM1069.4 811.1l6.5 11h-13zM1077.5 809.9l6.5 11h-13zM1085.5 808.7l6.5 11h-13zM1093.6 807.4l6.5 11h-13zM1101.6 806.1l6.5 11h-13zM1109.6 804.6l6.5 11h-13zM1117.7 803.1l6.5 11h-13zM1125.7 801.4l6.5 11h-13zM1133.8 799.5l6.5 11h-13zM1141.8 797.5l6.5 11h-13zM1149.9 795.4l6.5 11h-13zM1157.9 793.0l6.5 11h-13zM1165.9 789.9l6.5 11h-13zM1174.0 785.6l6.5 11h-13zM1182.0 781.8l6.5 11h-13zM1190.1 778.6l6.5 11h-13zM1198.1 772.5l6.5 11h-13zM1206.2 762.6l6.5 11h-13zM1214.2 751.8l6.5 11h-13zM1222.2 739.1l6.5 11h-13zM1230.3 723.8l6.5 11h-13zM1238.3 706.3l6.5 11h-13zM1246.4 683.5l6.5 11h-13zM1254.4 657.5l6.5 11h-13zM1262.4 636.5l6.5 11h-13zM1270.5 620.4l6.5 11h-13zM1278.5 609.2l6.5 11h-13zM1286.6 601.5l6.5 11h-13zM1294.6 595.9l6.5 11h-13zM1302.7 591.9l6.5 11h-13zM1310.7 588.8l6.5 11h-13zM1318.7 586.1l6.5 11h-13zM1326.8 583.5l6.5 11h-13zM1334.8 581.0l6.5 11h-13zM1342.9 578.6l6.5 11h-13zM1350.9 576.6l6.5 11h-13zM1359.0 574.9l6.5 11h-13zM1367.0 573.4l6.5 11h-13zM1375.0 572.2l6.5 11h-13zM1383.1 571.0l6.5 11h-13zM1391.1 570.0l6.5 11h-13zM1399.2 569.0l6.5 11h-13zM1407.2 568.1l6.5 11h-13zM1415.2 567.2l6.5 11h-13zM1423.3 566.3l6.5 11h-13zM1431.3 565.4l6.5 11h-13zM1439.4 564.5l6.5 11h-13zM1447.4 563.7l6.5 11h-13zM1455.5 562.9l6.5 11h-13zM1463.5 562.2l6.5 11h-13zM1471.5 561.5l6.5 11h-13zM1479.6 560.9l6.5 11h-13zM1487.6 560.4l6.5 11h-13zM1495.7 559.9l6.5 11h-13zM1503.7 559.5l6.5 11h-13zM1511.7 559.1l6.5 11h-13zM1519.8 558.7l6.5 11h-13zM1527.8 558.3l6.5 11h-13zM1535.9 557.9l6.5 11h-13zM1543.9 557.5l6.5 11h-13zM1552.0 557.1l6.5 11h-13zM1560.0 556.7l6.5 11h-13zM1568.0 556.3l6.5 11h-13zM1576.1 555.9l6.5 11h-13zM1584.1 555.6l6.5 11h-13zM1592.2 555.2l6.5 11h-13zM1600.2 554.9l6.5 11h-13zM1608.3 554.6l6.5 11h-13zM1616.3 554.3l6.5 11h-13zM1624.3 554.0l6.5 11h-13zM1632.4 553.8l6.5 11h-13zM1640.4 553.5l6.5 11h-13zM1648.5 553.3l6.5 11h-13zM1656.5 553.1l6.5 11h-13zM1664.5 552.8l6.5 11h-13zM1672.6 552.6l6.5 11h-13zM1680.6 552.4l6.5 11h-13zM1688.7 552.2l6.5 11h-13zM1696.7 552.0l6.5 11h-13zM1704.8 551.8l6.5 11h-13zM1712.8 551.6l6.5 11h-13zM1720.8 551.5l6.5 11h-13zM1728.9 551.3l6.5 11h-13zM1736.9 551.1l6.5 11h-13zM1745.0 550.9l6.5 11h-13zM1753.0 550.8l6.5 11h-13zM1761.1 550.6l6.5 11h-13zM1769.1 550.4l6.5 11h-13zM1777.1 550.2l6.5 11h-13zM1785.2 550.1l6.5 11h-13zM1793.2 549.9l6.5 11h-13zM1801.3 549.7l6.5 11h-13zM1809.3 549.6l6.5 11h-13zM1817.3 549.4l6.5 11h-13zM1825.4 549.3l6.5 11h-13zM1833.4 549.1l6.5 11h-13zM1841.5 548.9l6.5 11h-13zM1849.5 548.8l6.5 11h-13zM1857.6 548.6l6.5 11h-13zM1865.6 548.5l6.5 11h-13zM1873.6 548.4l6.5 11h-13zM1881.7 548.2l6.5 11h-13zM1889.7 548.1l6.5 11h-13zM1897.8 547.9l6.5 11h-13zM1905.8 547.8l6.5 11h-13zM1913.8 547.6l6.5 11h-13zM1921.9 547.5l6.5 11h-13zM1929.9 547.4l6.5 11h-13zM1938.0 547.2l6.5 11h-13zM1946.0 547.1l6.5 11h-13zM1954.1 547.0l6.5 11h-13zM1962.1 546.8l6.5 11h-13zM1970.1 546.7l6.5 11h-13zM1978.2 546.6l6.5 11h-13zM1986.2 546.5l6.5 11h-13zM1994.3 546.3l6.5 11h-13zM2002.3 546.2l6.5 11h-13zM2010.4 546.1l6.5 11h-13zM2018.4 546.0l6.5 11h-13zM2026.4 545.9l6.5 11h-13zM2034.5 545.7l6.5 11h-13z"/>
<text x="283" y="153.5" text-anchor="end" font-size="110">60</text>
<text x="283" y="344.5" text-anchor="end" font-size="110">40</text>
<text x="283" y="535.8" text-anchor="end" font-size="110">20</text>
<text x="283" y="727.5" text-anchor="end" font-size="110">0</text>
<text x="283" y="917.5" text-anchor="end" font-size="110">-20</text>
<text x="283" y="1109.3" text-anchor="end" font-size="110">-40</text>
<text x="283" y="1300.0" text-anchor="end" font-size="110">-60</text>
<text x="278.6" y="1474" font-size="109">-20,000</text>
<text x="670.2" y="1474" font-size="109">-10,000</text>
<text x="1205.9" y="1474" font-size="109">0</text>
<text x="1473.5" y="1474" font-size="109">10,000</text>
<text x="1874.6" y="1474" font-size="109">20,000</text>
<text x="848" y="1612.5" font-size="108">Magnetic field (Oe)</text>
<text x="107" y="1160.6" font-size="108" transform="rotate(-90 107 1160.6)">Magnetization (emu/g)</text>
<text x="1573.6" y="259.2" font-size="95.2"><tspan y="259.2">CoFe</tspan><tspan y="285.2" font-size="66">2</tspan><tspan y="259.2">O</tspan><tspan y="285.2" font-size="66">4</tspan></text>
<text x="373.3" y="536.2" font-size="95.2"><tspan y="536.2">CoFe</tspan><tspan y="562.2" font-size="66">2</tspan><tspan y="536.2">O</tspan><tspan y="562.2" font-size="66">4</tspan><tspan y="536.2">@SiO</tspan><tspan y="574.7" font-size="66">2</tspan><tspan y="536.2">-NH</tspan><tspan y="562.2" font-size="66">2</tspan></text>
<text x="479.2" y="1100.7" font-size="95.2"><tspan y="1100.7">CoFe</tspan><tspan y="1126.7" font-size="66">2</tspan><tspan y="1100.7">O</tspan><tspan y="1126.7" font-size="66">4</tspan><tspan y="1100.7">@SiO</tspan><tspan y="1126.7" font-size="66">2</tspan></text>
</svg>
</body></html>
